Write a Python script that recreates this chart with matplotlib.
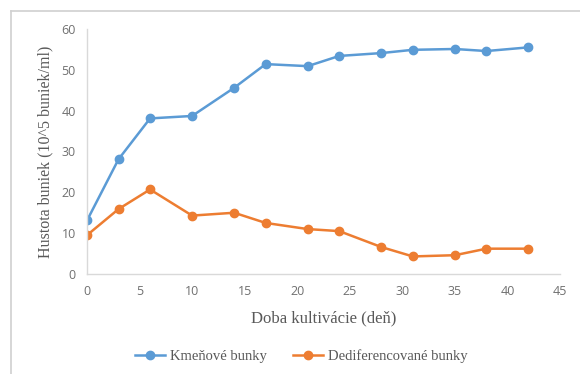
import matplotlib.pyplot as plt
from matplotlib.lines import Line2D
from matplotlib.font_manager import FontProperties

# dni kultivacie
dni = [0, 3, 6, 10, 14, 17, 21, 24, 28, 31, 35, 38, 42]
kmenove = [13.1, 28.1, 38.1, 38.7, 45.6, 51.4, 50.9, 53.4, 54.1, 54.9, 55.1, 54.6, 55.5]
dediferencovane = [9.5, 15.9, 20.7, 14.3, 15.0, 12.5, 11.0, 10.5, 6.6, 4.3, 4.6, 6.2, 6.2]
x_ticks = [0, 5, 10, 15, 20, 25, 30, 35, 40, 45]
y_ticks = [0, 10, 20, 30, 40, 50, 60]

modra = "#5B9BD5"
oranzova = "#ED7D31"
seda = "#595959"
serif = ["Liberation Serif", "DejaVu Serif"]

fig = plt.figure(figsize=(5.8, 3.74), dpi=100)
ax = fig.add_axes([0.15, 0.2674, 0.8155, 0.6551])

ax.plot(dni, kmenove, color=modra, lw=1.8, marker="o", ms=6, label="Kmeňové bunky")
ax.plot(dni, dediferencovane, color=oranzova, lw=1.8, marker="o", ms=6,
        label="Dediferencované bunky")

ax.set_xlim(0, 45)
ax.set_ylim(0, 60)
ax.set_xticks(x_ticks)
ax.set_yticks(y_ticks)
ax.tick_params(length=0, labelsize=9, labelcolor="#707070", pad=8)
for lab in ax.get_xticklabels() + ax.get_yticklabels():
    lab.set_family(["Open Sans", "DejaVu Sans"])

for s in ["top", "right"]:
    ax.spines[s].set_visible(False)
ax.spines["left"].set_color("#D9D9D9")
ax.spines["bottom"].set_color("#D9D9D9")
ax.spines["left"].set_linewidth(1.0)
ax.spines["bottom"].set_linewidth(1.0)

ax.set_xlabel("Doba kultivácie (deň)", family=serif, fontsize=12, color=seda, labelpad=9)
ax.set_ylabel("Hustota buniek (10^5 buniek/ml)", family=serif, fontsize=11.5, color=seda,
              labelpad=6)

leg = fig.legend(loc="center", bbox_to_anchor=(0.519, 0.047), ncol=2, frameon=False,
                 prop=FontProperties(family="Liberation Serif", size=10.5),
                 handlelength=2.1, columnspacing=1.8, handletextpad=0.3)
for t in leg.get_texts():
    t.set_color(seda)

# ramcek grafu (vlavo a hore)
fig.add_artist(Line2D([11 / 580, 11 / 580], [0, 1 - 11 / 374], color="#D0D0D0", lw=1.2))
fig.add_artist(Line2D([11 / 580, 1], [1 - 11 / 374, 1 - 11 / 374], color="#D0D0D0", lw=1.2))

fig.savefig("out.png", dpi=100)
